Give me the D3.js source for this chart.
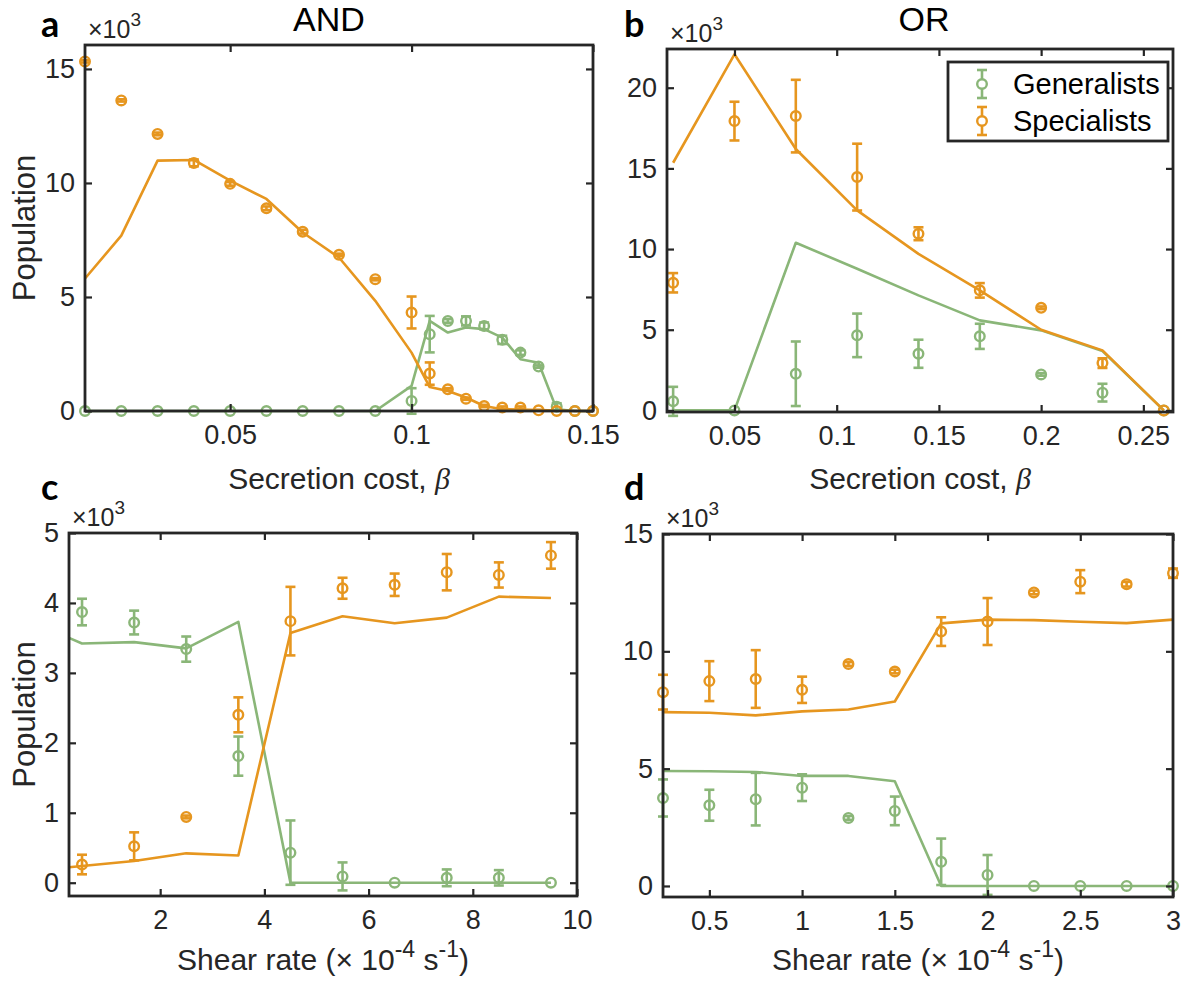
<!DOCTYPE html>
<html>
<head>
<meta charset="utf-8">
<script src="https://cdn.jsdelivr.net/npm/d3@7"></script>
<style>
  html, body { margin: 0; padding: 0; background: #ffffff; }
  svg { display: block; }
  text { font-family: "Liberation Sans", Arial, Helvetica, sans-serif; fill: #262626; }
</style>
</head>
<body>
<svg id="chart" width="1184" height="983"></svg>
<script>
// ---------------- DATA ----------------
// Panel a (AND): secretion cost
const aX = [0.01, 0.02, 0.03, 0.04, 0.05, 0.06, 0.07, 0.08, 0.09, 0.10, 0.105, 0.11, 0.115, 0.12, 0.125, 0.13, 0.135, 0.14, 0.145, 0.15];
const aGenMean = [0, 0, 0, 0, 0, 0, 0, 0, 0, 0.44, 3.37, 3.95, 3.95, 3.73, 3.12, 2.56, 1.95, 0.19, 0, 0];
const aGenErr  = [0, 0, 0, 0, 0, 0, 0, 0, 0, 0.56, 0.80, 0.08, 0.20, 0.15, 0.18, 0.10, 0.05, 0.15, 0, 0];
const aSpecMean = [15.33, 13.62, 12.15, 10.88, 9.96, 8.89, 7.86, 6.85, 5.78, 4.32, 1.64, 0.95, 0.54, 0.22, 0.15, 0.15, 0.03, 0, 0, 0];
const aSpecErr  = [0.05, 0.05, 0.06, 0.15, 0.08, 0.08, 0.08, 0.05, 0.05, 0.70, 0.49, 0.05, 0.05, 0.05, 0.05, 0.05, 0.02, 0, 0, 0];
const aGenModel = [0, 0, 0, 0, 0, 0, 0, 0, 0, 1.10, 3.95, 3.44, 3.66, 3.59, 3.22, 2.27, 2.12, 0.07, 0, 0];
const aSpecModel = [5.81, 7.69, 10.98, 11.01, 10.10, 9.30, 7.83, 6.73, 4.83, 2.56, 1.05, 0.88, 0.59, 0.22, 0.08, 0.06, 0.04, 0.02, 0, 0];
const aXTicks = [0.05, 0.1, 0.15];
const aXTickLabels = ["0.05", "0.1", "0.15"];
const aYTicks = [0, 5, 10, 15];
const aYTickLabels = ["0", "5", "10", "15"];

// Panel b (OR): secretion cost
const bX = [0.02, 0.05, 0.08, 0.11, 0.14, 0.17, 0.20, 0.23, 0.26];
const bGenMean = [0.56, 0, 2.27, 4.65, 3.51, 4.59, 2.23, 1.10, 0];
const bGenErr  = [0.90, 0, 2.00, 1.35, 0.87, 0.78, 0.08, 0.55, 0];
const bSpecMean = [7.91, 17.93, 18.24, 14.46, 10.95, 7.44, 6.36, 2.93, 0];
const bSpecErr  = [0.60, 1.20, 2.25, 2.07, 0.40, 0.45, 0.08, 0.30, 0];
const bGenModel = [0, 0, 10.39, 8.78, 7.13, 5.58, 4.96, 3.68, 0];
const bSpecModel = [15.35, 22.07, 16.20, 12.40, 9.70, 7.44, 5.00, 3.72, 0];
const bXTicks = [0.05, 0.1, 0.15, 0.2, 0.25];
const bXTickLabels = ["0.05", "0.1", "0.15", "0.2", "0.25"];
const bYTicks = [0, 5, 10, 15, 20];
const bYTickLabels = ["0", "5", "10", "15", "20"];

// Panel c (AND): shear rate
const cX = [0.5, 1.5, 2.5, 3.5, 4.5, 5.5, 6.5, 7.5, 8.5, 9.5];
const cGenMean = [3.87, 3.72, 3.34, 1.81, 0.43, 0.09, 0, 0.07, 0.07, 0];
const cGenErr  = [0.19, 0.17, 0.18, 0.28, 0.46, 0.20, 0, 0.12, 0.11, 0];
const cSpecMean = [0.26, 0.52, 0.94, 2.40, 3.74, 4.21, 4.26, 4.44, 4.40, 4.68];
const cSpecErr  = [0.14, 0.20, 0.02, 0.25, 0.49, 0.15, 0.16, 0.26, 0.18, 0.19];
const cModelX = [0.25, 0.5, 1.5, 2.5, 3.5, 4.5, 5.5, 6.5, 7.5, 8.5, 9.5];
const cGenModel = [3.50, 3.42, 3.44, 3.35, 3.73, 0, 0, 0, 0, 0, 0];
const cSpecModel = [0.22, 0.24, 0.31, 0.42, 0.39, 3.57, 3.81, 3.71, 3.79, 4.09, 4.07];
const cXTicks = [2, 4, 6, 8, 10];
const cXTickLabels = ["2", "4", "6", "8", "10"];
const cYTicks = [0, 1, 2, 3, 4, 5];
const cYTickLabels = ["0", "1", "2", "3", "4", "5"];

// Panel d (OR): shear rate
const dX = [0.25, 0.5, 0.75, 1.0, 1.25, 1.5, 1.75, 2.0, 2.25, 2.5, 2.75, 3.0];
const dGenMean = [3.75, 3.44, 3.70, 4.19, 2.90, 3.20, 1.03, 0.47, 0, 0, 0, 0];
const dGenErr  = [0.79, 0.66, 1.12, 0.57, 0.08, 0.61, 0.99, 0.85, 0, 0, 0, 0];
const dSpecMean = [8.26, 8.73, 8.82, 8.36, 9.46, 9.14, 10.84, 11.27, 12.51, 12.97, 12.86, 13.33];
const dSpecErr  = [0.74, 0.85, 1.23, 0.56, 0.08, 0.08, 0.61, 1.00, 0.08, 0.49, 0.10, 0.20];
const dGenModel = [4.90, 4.89, 4.86, 4.69, 4.69, 4.46, 0, 0, 0, 0, 0, 0];
const dSpecModel = [7.41, 7.38, 7.27, 7.44, 7.52, 7.86, 11.19, 11.35, 11.33, 11.26, 11.20, 11.35];
const dXTicks = [0.5, 1, 1.5, 2, 2.5, 3];
const dXTickLabels = ["0.5", "1", "1.5", "2", "2.5", "3"];
const dYTicks = [0, 5, 10, 15];
const dYTickLabels = ["0", "5", "10", "15"];

const seriesNames = ["Generalists", "Specialists"];

// ---------------- STYLE ----------------
const GREEN = "#8AB678";
const ORANGE = "#E6961F";
const INK = "#262626";

const svg = d3.select("#chart");

function drawPanel(p) {
  const g = svg.append("g");
  const x = d3.scaleLinear().domain(p.xDomain).range([p.left, p.right]);
  const y = d3.scaleLinear().domain(p.yDomain).range([p.bottom, p.top]);

  // model lines
  const line = d3.line().x(d => x(d[0])).y(d => y(d[1]));
  const mx = p.modelX || p.xs;
  g.append("path").datum(mx.map((v, i) => [v, p.genModel[i]]))
    .attr("d", line).attr("fill", "none").attr("stroke", GREEN).attr("stroke-width", 2.6).attr("stroke-linejoin", "round");
  g.append("path").datum(mx.map((v, i) => [v, p.specModel[i]]))
    .attr("d", line).attr("fill", "none").attr("stroke", ORANGE).attr("stroke-width", 2.6).attr("stroke-linejoin", "round");

  // error bars + markers
  function drawSeries(mean, err, color) {
    const data = p.xs.map((v, i) => ({ x: v, m: mean[i], e: err[i] }));
    const eg = g.append("g");
    const cap = 5;
    data.forEach(d => {
      if (d.e > 0) {
        const y0 = y(d.m - d.e), y1 = y(d.m + d.e), cx = x(d.x);
        eg.append("line").attr("x1", cx).attr("x2", cx).attr("y1", y0).attr("y2", y1)
          .attr("stroke", color).attr("stroke-width", 2.6);
        eg.append("line").attr("x1", cx - cap).attr("x2", cx + cap).attr("y1", y0).attr("y2", y0)
          .attr("stroke", color).attr("stroke-width", 2.6);
        eg.append("line").attr("x1", cx - cap).attr("x2", cx + cap).attr("y1", y1).attr("y2", y1)
          .attr("stroke", color).attr("stroke-width", 2.6);
      }
    });
    eg.selectAll("circle").data(data).join("circle")
      .attr("cx", d => x(d.x)).attr("cy", d => y(d.m)).attr("r", 4.8)
      .attr("fill", "none").attr("stroke", color).attr("stroke-width", 2.4);
  }
  drawSeries(p.genMean, p.genErr, GREEN);
  drawSeries(p.specMean, p.specErr, ORANGE);

  // axes box
  const tickLen = 7;
  const axG = g.append("g");
  const xAxisB = d3.axisBottom(x).tickValues(p.xTicks).tickFormat((d, i) => p.xTickLabels[i]).tickSizeInner(-tickLen).tickSizeOuter(0).tickPadding(14);
  const xAxisT = d3.axisTop(x).tickValues(p.xTicks).tickFormat("").tickSizeInner(-tickLen).tickSizeOuter(0);
  const yAxisL = d3.axisLeft(y).tickValues(p.yTicks).tickFormat((d, i) => p.yTickLabels[i]).tickSizeInner(-tickLen).tickSizeOuter(0).tickPadding(10);
  const yAxisR = d3.axisRight(y).tickValues(p.yTicks).tickFormat("").tickSizeInner(-tickLen).tickSizeOuter(0);
  const styleAxis = sel => {
    sel.select(".domain").remove();
    sel.selectAll(".tick line").attr("stroke", INK).attr("stroke-width", 2.2);
    sel.selectAll(".tick text").attr("fill", INK).style("font-size", "27px");
  };
  axG.append("g").attr("transform", `translate(0,${p.bottom})`).call(xAxisB).call(styleAxis);
  axG.append("g").attr("transform", `translate(0,${p.top})`).call(xAxisT).call(styleAxis);
  axG.append("g").attr("transform", `translate(${p.left},0)`).call(yAxisL).call(styleAxis);
  axG.append("g").attr("transform", `translate(${p.right},0)`).call(yAxisR).call(styleAxis);
  axG.append("rect").attr("x", p.left).attr("y", p.top).attr("width", p.right - p.left).attr("height", p.bottom - p.top)
    .attr("fill", "none").attr("stroke", INK).attr("stroke-width", 2.8);

  // exponent label ×10^3
  const ex = g.append("text").attr("x", p.left + 3).attr("y", p.top - 7).style("font-size", "25px");
  ex.append("tspan").text("\u00D710");
  ex.append("tspan").attr("dy", -12).style("font-size", "19px").text("3");

  // panel letter
  g.append("text").attr("x", p.letterX).attr("y", p.letterY).style("font-size", "36px").attr("font-weight", 700)
    .style("font-family", "Lato, 'Open Sans', sans-serif").style("fill", "#000").text(p.letter);

  // title
  if (p.title) {
    g.append("text").attr("x", p.titleX).attr("y", 31).attr("text-anchor", "middle").style("font-size", "34px")
      .style("fill", "#000").text(p.title);
  }

  // x label
  const xl = g.append("text").attr("x", (p.left + p.right) / 2 + (p.xLabelShift || 0)).attr("y", p.xLabelY)
    .attr("text-anchor", "middle").style("font-size", "30px");
  if (p.xLabelKind === "beta") {
    xl.append("tspan").text("Secretion cost, ");
    xl.append("tspan").style("font-family", "'Liberation Serif', 'DejaVu Serif', serif").style("font-style", "italic").text("\u03B2");
  } else {
    xl.append("tspan").text("Shear rate (\u00D7 10");
    xl.append("tspan").attr("dy", -13).style("font-size", "23px").text("-4");
    xl.append("tspan").attr("dy", 13).text(" s");
    xl.append("tspan").attr("dy", -13).style("font-size", "23px").text("-1");
    xl.append("tspan").attr("dy", 13).text(")");
  }

  // y label
  if (p.yLabel) {
    const cy = (p.top + p.bottom) / 2;
    g.append("text").attr("transform", `translate(${p.yLabelX},${cy}) rotate(-90)`)
      .attr("text-anchor", "middle").style("font-size", "31px").text(p.yLabel);
  }
  return { x, y };
}

// Panel a
drawPanel({
  left: 85, right: 593, top: 45, bottom: 411,
  xDomain: [0.01, 0.15], yDomain: [0, 16.05],
  xs: aX, genMean: aGenMean, genErr: aGenErr, specMean: aSpecMean, specErr: aSpecErr,
  genModel: aGenModel, specModel: aSpecModel,
  xTicks: aXTicks, xTickLabels: aXTickLabels, yTicks: aYTicks, yTickLabels: aYTickLabels,
  letter: "a", letterX: 41, letterY: 37, title: "AND", titleX: 329,
  xLabelKind: "beta", xLabelY: 489, yLabel: "Population", yLabelX: 35
});

// Panel b
drawPanel({
  left: 667, right: 1173, top: 49, bottom: 412,
  xDomain: [0.017, 0.2645], yDomain: [-0.1, 22.4],
  xs: bX, genMean: bGenMean, genErr: bGenErr, specMean: bSpecMean, specErr: bSpecErr,
  genModel: bGenModel, specModel: bSpecModel,
  xTicks: bXTicks, xTickLabels: bXTickLabels, yTicks: bYTicks, yTickLabels: bYTickLabels,
  letter: "b", letterX: 624, letterY: 37, title: "OR", titleX: 924,
  xLabelKind: "beta", xLabelY: 489, yLabel: null
});

// Panel c
drawPanel({
  left: 69, right: 577, top: 533, bottom: 896,
  xDomain: [0.25, 10], yDomain: [-0.19, 5],
  xs: cX, modelX: cModelX, genMean: cGenMean, genErr: cGenErr, specMean: cSpecMean, specErr: cSpecErr,
  genModel: cGenModel, specModel: cSpecModel,
  xTicks: cXTicks, xTickLabels: cXTickLabels, yTicks: cYTicks, yTickLabels: cYTickLabels,
  letter: "c", letterX: 41, letterY: 500,
  xLabelKind: "shear", xLabelY: 970, yLabel: "Population", yLabelX: 35
});

// Panel d
drawPanel({
  left: 663, right: 1173, top: 534, bottom: 897,
  xDomain: [0.25, 3], yDomain: [-0.47, 15],
  xs: dX, genMean: dGenMean, genErr: dGenErr, specMean: dSpecMean, specErr: dSpecErr,
  genModel: dGenModel, specModel: dSpecModel,
  xTicks: dXTicks, xTickLabels: dXTickLabels, yTicks: dYTicks, yTickLabels: dYTickLabels,
  letter: "d", letterX: 624, letterY: 500,
  xLabelKind: "shear", xLabelY: 970, yLabel: null
});

// Legend (panel b)
const lg = svg.append("g");
const lgBox = { x: 948, y: 62, w: 220, h: 79 };
lg.append("rect").attr("x", lgBox.x).attr("y", lgBox.y).attr("width", lgBox.w).attr("height", lgBox.h)
  .attr("fill", "#fff").attr("stroke", INK).attr("stroke-width", 2.8);
[GREEN, ORANGE].forEach((col, i) => {
  const cy = 84 + i * 37;
  const cx = 982;
  lg.append("line").attr("x1", cx).attr("x2", cx).attr("y1", cy - 14).attr("y2", cy + 14).attr("stroke", col).attr("stroke-width", 2.6);
  lg.append("line").attr("x1", cx - 5).attr("x2", cx + 5).attr("y1", cy - 14).attr("y2", cy - 14).attr("stroke", col).attr("stroke-width", 2.6);
  lg.append("line").attr("x1", cx - 5).attr("x2", cx + 5).attr("y1", cy + 14).attr("y2", cy + 14).attr("stroke", col).attr("stroke-width", 2.6);
  lg.append("circle").attr("cx", cx).attr("cy", cy).attr("r", 4.8).attr("fill", "#fff").attr("stroke", col).attr("stroke-width", 2.4);
  lg.append("text").attr("x", 1013).attr("y", cy + 10).style("font-size", "29px").style("fill", "#000").text(seriesNames[i]);
});
</script>
</body>
</html>
